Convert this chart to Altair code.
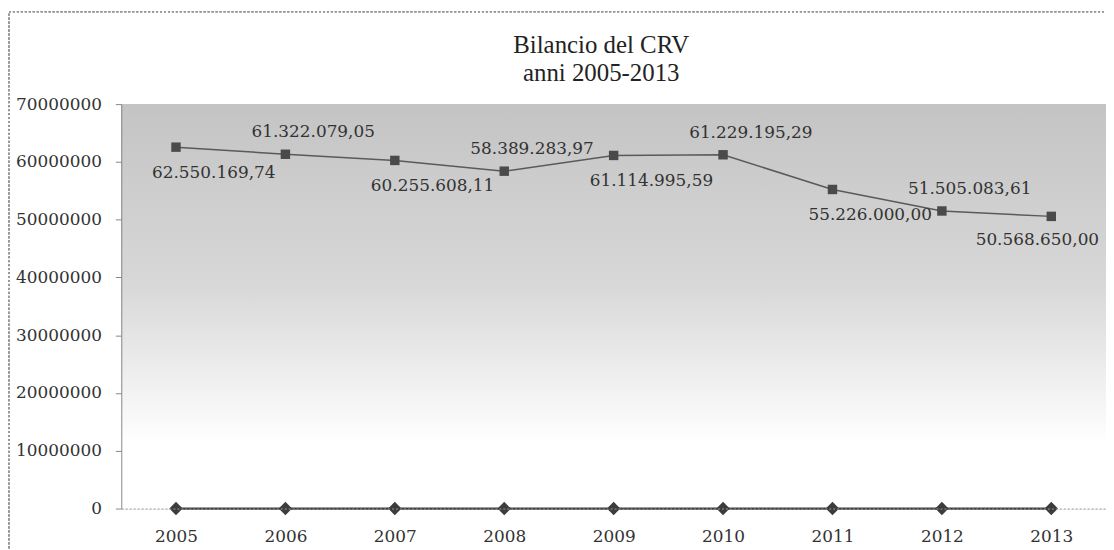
import altair as alt
import pandas as pd

years = ["2005", "2006", "2007", "2008", "2009", "2010", "2011", "2012", "2013"]
bilancio = [62550169.74, 61322079.05, 60255608.11, 58389283.97, 61114995.59,
            61229195.29, 55226000.00, 51505083.61, 50568650.00]
zero_series = [0, 0, 0, 0, 0, 0, 0, 0, 0]
y_ticks = [0, 10000000, 20000000, 30000000, 40000000, 50000000, 60000000, 70000000]
title_lines = ["Bilancio del CRV", "anni 2005-2013"]


def it_format(v):
    return f"{v:,.2f}".replace(",", "X").replace(".", ",").replace("X", ".")


df = pd.DataFrame({
    "year": years,
    "value": bilancio,
    "zero": zero_series,
    "label": [it_format(v) for v in bilancio],
})
title_df = pd.DataFrame({"line": title_lines, "row": [0, 1]})

W, H = 991, 407
SERIF = "DejaVu Serif"

x_enc = alt.X("year:N", sort=years,
              scale=alt.Scale(type="point", padding=0.5),
              axis=alt.Axis(title=None, labelAngle=0, ticks=False, labelPadding=20,
                            labelFont=SERIF, labelFontSize=17, labelColor="#333",
                            domainColor="#999", domainDash=[2, 2], zindex=1))
y_scale = alt.Scale(domain=[0, 70000000], nice=False)

base = alt.Chart(df)

bg = alt.Chart(df).mark_rect(
    fill=alt.LinearGradient(
        gradient="linear", x1=0, x2=0, y1=0, y2=1,
        stops=[alt.GradientStop(offset=0, color="#c4c4c4"),
               alt.GradientStop(offset=0.45, color="#d8d8d8"),
               alt.GradientStop(offset=0.72, color="#f3f3f3"),
               alt.GradientStop(offset=0.84, color="#ffffff"),
               alt.GradientStop(offset=1, color="#ffffff")]),
).encode(x=alt.value(0), x2=alt.value(W), y=alt.value(0), y2=alt.value(H))

frame = alt.Chart(df).mark_rect(filled=False, stroke="#9a9a9a", strokeWidth=1,
                                 strokeDash=[2, 2]).encode(
    x=alt.value(-113), x2=alt.value(1000), y=alt.value(-93), y2=alt.value(470))

title_kw = dict(font="Liberation Serif", fontSize=25, color="#222",
                align="center", baseline="middle")
title1 = alt.Chart(title_df).transform_filter("datum.row == 0").mark_text(**title_kw).encode(
    x=alt.value(483), y=alt.value(-59), text="line:N")
title2 = alt.Chart(title_df).transform_filter("datum.row == 1").mark_text(**title_kw).encode(
    x=alt.value(483), y=alt.value(-31), text="line:N")

line = base.mark_line(color="#5a5a5a", strokeWidth=1.5).encode(
    x=x_enc,
    y=alt.Y("value:Q", scale=y_scale,
            axis=alt.Axis(title=None, values=y_ticks, format="d", grid=False,
                          tickSize=6, tickColor="#888", domainColor="#888",
                          labelFont=SERIF, labelFontSize=17, labelColor="#333",
                          labelPadding=14, zindex=1)))
pts = base.mark_point(shape="square", filled=True, size=90, color="#4a4a4a",
                      opacity=1).encode(x=x_enc, y=alt.Y("value:Q", scale=y_scale))

zline = base.mark_line(color="#3c3c3c", strokeWidth=2.2).encode(
    x=x_enc, y=alt.Y("zero:Q", scale=y_scale))
zpts = base.mark_point(shape="diamond", filled=True, size=180, color="#3c3c3c",
                       opacity=1).encode(x=x_enc, y=alt.Y("zero:Q", scale=y_scale))

txt_kw = dict(font=SERIF, fontSize=17, color="#333", align="center", baseline="middle")
lab_below = base.transform_filter(
    "toNumber(datum.year) % 2 == 1 && datum.year != '2013'"
).mark_text(dx=38, dy=26, **txt_kw).encode(
    x=x_enc, y=alt.Y("value:Q", scale=y_scale), text="label:N")
lab_above = base.transform_filter(
    "toNumber(datum.year) % 2 == 0"
).mark_text(dx=28, dy=-22, **txt_kw).encode(
    x=x_enc, y=alt.Y("value:Q", scale=y_scale), text="label:N")
lab_last = base.transform_filter(
    "datum.year == '2013'"
).mark_text(dx=-14, dy=24, **txt_kw).encode(
    x=x_enc, y=alt.Y("value:Q", scale=y_scale), text="label:N")

chart = alt.layer(frame, bg, line, zline, pts, zpts, lab_below, lab_above, lab_last,
                  title1, title2).properties(
    width=W, height=H,
    autosize=alt.AutoSizeParams(type="none"),
    padding={"left": 114, "top": 95, "right": 0, "bottom": 40},
).configure_view(stroke="#aaaaaa", strokeDash=[2, 2]).configure(background="white")

chart.save("out.html", embed_options={"renderer": "svg", "actions": False})
